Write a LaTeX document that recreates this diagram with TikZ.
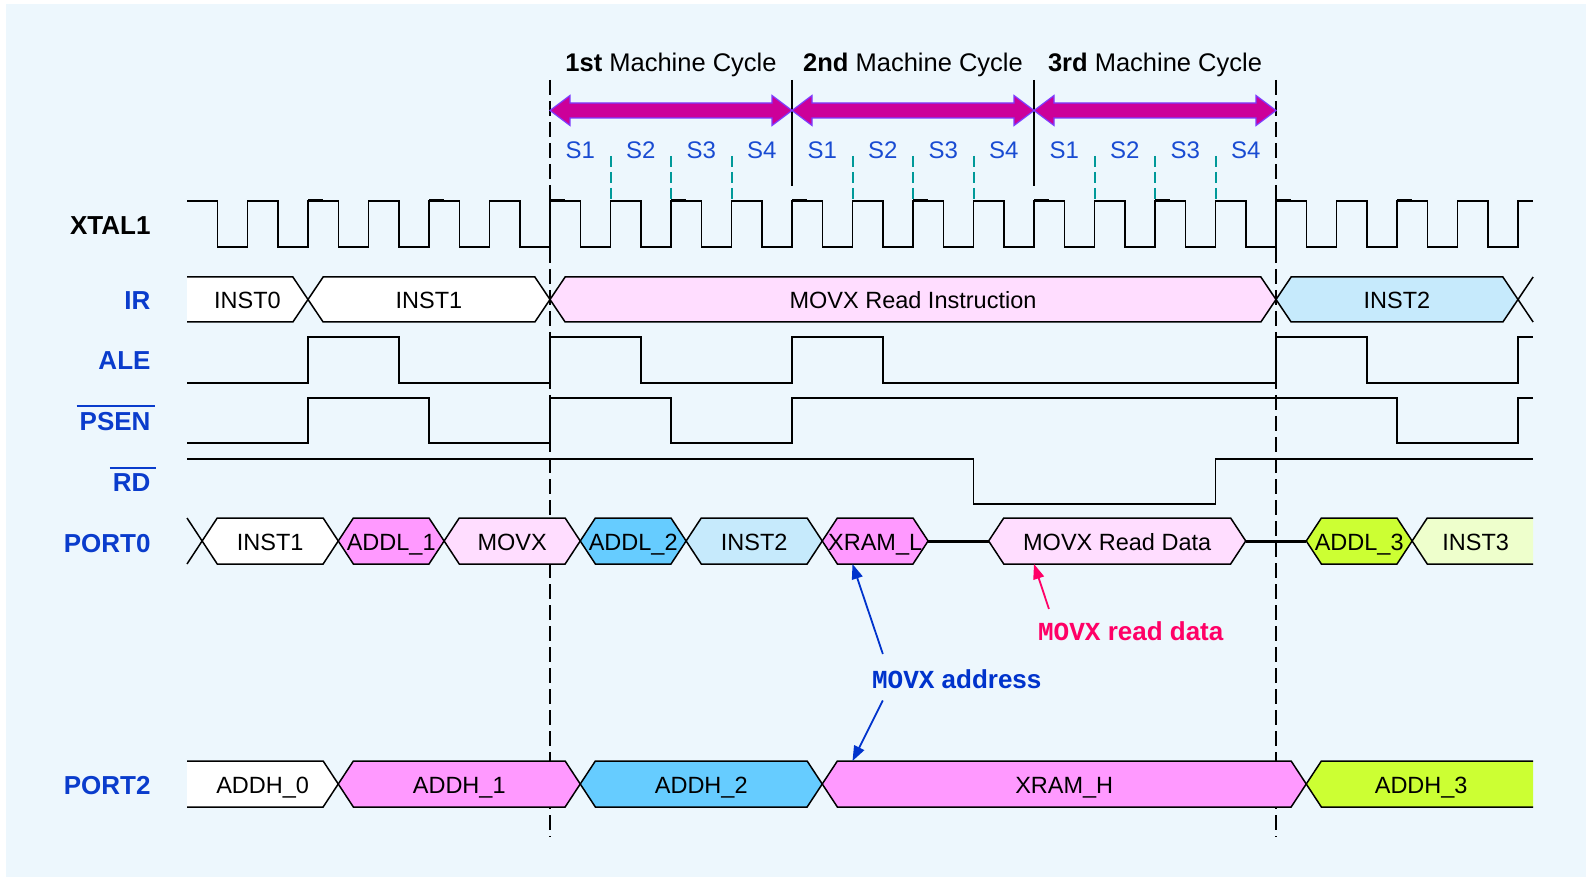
\documentclass[tikz,border=0pt]{standalone}
\usepackage{fontspec}
\setmainfont{Liberation Sans}
\newfontfamily\monofont{Liberation Mono}
\usetikzlibrary{arrows.meta}

\definecolor{bgblue}{RGB}{237,247,253}
\definecolor{sigblue}{RGB}{10,60,204}
\definecolor{stateblue}{RGB}{25,75,210}
\definecolor{tealtick}{RGB}{0,153,153}
\definecolor{cyclefill}{RGB}{204,0,153}
\definecolor{cycleedge}{RGB}{125,60,255}
\definecolor{palepink}{RGB}{255,221,255}
\definecolor{magpink}{RGB}{255,153,255}
\definecolor{skyblue}{RGB}{102,204,255}
\definecolor{iceblue}{RGB}{198,234,252}
\definecolor{limegreen}{RGB}{204,255,51}
\definecolor{palelime}{RGB}{238,255,204}
\definecolor{addrblue}{RGB}{0,51,204}
\definecolor{datapink}{RGB}{255,0,102}

\newcommand\barsig[1]{\hbox{\kern-3pt\vbox{\hrule height 2pt\kern 5pt\hbox{\kern3pt#1\kern5pt}}\kern-5pt}}

\begin{document}
\begin{tikzpicture}[x=30.25pt, y=-1pt,
  wave/.style={line width=1.5pt},
  bus/.style={draw=black, line width=1.5pt},
  val/.style={anchor=base, inner sep=0pt, font=\fontsize{23.5}{28}\selectfont},
  sig/.style={anchor=base east, inner sep=0pt, text=sigblue, font=\fontsize{26}{30}\selectfont\bfseries},
  statelabel/.style={anchor=base, inner sep=0pt, text=stateblue, font=\fontsize{24}{28}\selectfont},
  cyclelabel/.style={anchor=base, inner sep=0pt, font=\fontsize{25.5}{30}\selectfont},
  cyclearrow/.style={fill=cyclefill, draw=cycleedge, line width=1.2pt},
  cycleline/.style={line width=1.5pt},
  phase/.style={draw=tealtick, line width=2pt, dash pattern=on 11pt off 5pt},
  note/.style={anchor=base west, inner sep=0pt, font=\fontsize{26}{30}\selectfont\bfseries},
  notearrow/.style={line width=1.8pt, -{Triangle[length=15pt,width=11pt]}}]

\useasboundingbox (-18.182,0) rectangle (34.248,877);
\fill[bgblue] (-17.98,4) rectangle (34.248,877);

\draw[cycleline, dash pattern=on 15pt off 6pt] (0,80) -- (0,837);
\draw[cycleline, dash pattern=on 15pt off 6pt] (24,80) -- (24,837);
\draw[cycleline] (8,80) -- (8,186);
\draw[cycleline] (16,80) -- (16,186);

\foreach \c in {0,8,16}
  \filldraw[cyclearrow] (\c,110.5) -- ++(0.661,-15) -- ++(0,7.5) -- ++(6.678,0) -- ++(0,-7.5) -- ++(0.661,15) -- ++(-0.661,15) -- ++(0,-7.5) -- ++(-6.678,0) -- ++(0,7.5) -- cycle;

\node[cyclelabel] (cyc1) at (4,72) {\textbf{1st} Machine Cycle};
\node[cyclelabel] (cyc2) at (12,72) {\textbf{2nd} Machine Cycle};
\node[cyclelabel] (cyc3) at (20,72) {\textbf{3rd} Machine Cycle};

\foreach \c in {0,8,16} {
  \foreach \n in {1,...,4}
    \node[statelabel] (s\n-\c) at (\c+2*\n-1,159) {S\n};
  \foreach \t in {2,4,6}
    \draw[phase] (\c+\t,156) -- (\c+\t,200);
}

\node[sig, text=black] (xtal) at (-13.2,235) {XTAL1};
\node[sig] (ir) at (-13.2,309.5) {IR};
\node[sig] (ale) at (-13.2,370) {ALE};
\node[sig] (psen) at (-13.2,430.5) {\barsig{PSEN}};
\node[sig] (rd) at (-13.2,491.5) {\barsig{RD}};
\node[sig] (port0) at (-13.2,552) {PORT0};
\node[sig] (port2) at (-13.2,794) {PORT2};

\draw[wave] (-12,201) \foreach \k in {-12,-10,...,30} {-- (\k+1,201) -- (\k+1,247) -- (\k+2,247) -- (\k+2,201)} -- (32.5,201);
\foreach \k in {-8,-4,...,28}
  \draw[line width=3pt] (\k,201) -- (\k+0.5,201);

\filldraw[bus, fill=white] (-12,277) -- (-8.5,277) -- (-8,299.5) -- (-8.5,322) -- (-12,322);
\filldraw[bus, fill=white] (-8,299.5) -- (-7.5,277) -- (-0.5,277) -- (0,299.5) -- (-0.5,322) -- (-7.5,322) -- cycle;
\filldraw[bus, fill=palepink] (0,299.5) -- (0.5,277) -- (23.5,277) -- (24,299.5) -- (23.5,322) -- (0.5,322) -- cycle;
\filldraw[bus, fill=iceblue] (24,299.5) -- (24.5,277) -- (31.5,277) -- (32,299.5) -- (31.5,322) -- (24.5,322) -- cycle;
\draw[bus] (32.5,277) -- (32,299.5) -- (32.5,322);
\node[val] (ir0) at (-10,308.5) {INST0};
\node[val] (ir1) at (-4,308.5) {INST1};
\node[val] (irmovx) at (12,308.5) {MOVX Read Instruction};
\node[val] (ir2) at (28,308.5) {INST2};

\draw[wave] (-12,383) -- (-8,383) -- (-8,337) -- (-5,337) -- (-5,383) -- (0,383) -- (0,337) -- (3,337) -- (3,383) -- (8,383) -- (8,337) -- (11,337) -- (11,383) -- (24,383) -- (24,337) -- (27,337) -- (27,383) -- (32,383) -- (32,337) -- (32.5,337);

\draw[wave] (-12,443) -- (-8,443) -- (-8,398) -- (-4,398) -- (-4,443) -- (0,443) -- (0,398) -- (4,398) -- (4,443) -- (8,443) -- (8,398) -- (28,398) -- (28,443) -- (32,443) -- (32,398) -- (32.5,398);

\draw[wave] (-12,459) -- (14,459) -- (14,504) -- (22,504) -- (22,459) -- (32.5,459);

\draw[bus] (-12,518) -- (-11.5,541) -- (-12,564);
\filldraw[bus, fill=white] (-11.5,541) -- (-11,518) -- (-7.5,518) -- (-7,541) -- (-7.5,564) -- (-11,564) -- cycle;
\filldraw[bus, fill=magpink] (-7,541) -- (-6.5,518) -- (-4,518) -- (-3.5,541) -- (-4,564) -- (-6.5,564) -- cycle;
\filldraw[bus, fill=palepink] (-3.5,541) -- (-3,518) -- (0.5,518) -- (1,541) -- (0.5,564) -- (-3,564) -- cycle;
\filldraw[bus, fill=skyblue] (1,541) -- (1.5,518) -- (4,518) -- (4.5,541) -- (4,564) -- (1.5,564) -- cycle;
\filldraw[bus, fill=iceblue] (4.5,541) -- (5,518) -- (8.5,518) -- (9,541) -- (8.5,564) -- (5,564) -- cycle;
\filldraw[bus, fill=magpink] (9,541) -- (9.5,518) -- (12,518) -- (12.5,541) -- (12,564) -- (9.5,564) -- cycle;
\draw[line width=3pt] (12.5,541) -- (14.5,541);
\filldraw[bus, fill=palepink] (14.5,541) -- (15,518) -- (22.5,518) -- (23,541) -- (22.5,564) -- (15,564) -- cycle;
\draw[line width=3pt] (23,541) -- (25,541);
\filldraw[bus, fill=limegreen] (25,541) -- (25.5,518) -- (28,518) -- (28.5,541) -- (28,564) -- (25.5,564) -- cycle;
\filldraw[bus, fill=palelime] (32.5,518) -- (29,518) -- (28.5,541) -- (29,564) -- (32.5,564);
\node[val] (p0inst1) at (-9.25,550) {INST1};
\node[val] (p0addl1) at (-5.25,550) {ADDL\_1};
\node[val] (p0movx) at (-1.25,550) {MOVX};
\node[val] (p0addl2) at (2.75,550) {ADDL\_2};
\node[val] (p0inst2) at (6.75,550) {INST2};
\node[val] (xraml) at (10.75,550) {XRAM\_L};
\node[val] (rddata) at (18.75,550) {MOVX Read Data};
\node[val] (p0addl3) at (26.75,550) {ADDL\_3};
\node[val] (p0inst3) at (30.6,550) {INST3};

\filldraw[bus, fill=white] (-12,761) -- (-7.5,761) -- (-7,784) -- (-7.5,807) -- (-12,807);
\filldraw[bus, fill=magpink] (-7,784) -- (-6.5,761) -- (0.5,761) -- (1,784) -- (0.5,807) -- (-6.5,807) -- cycle;
\filldraw[bus, fill=skyblue] (1,784) -- (1.5,761) -- (8.5,761) -- (9,784) -- (8.5,807) -- (1.5,807) -- cycle;
\filldraw[bus, fill=magpink] (9,784) -- (9.5,761) -- (24.5,761) -- (25,784) -- (24.5,807) -- (9.5,807) -- cycle;
\filldraw[bus, fill=limegreen] (32.5,761) -- (25.5,761) -- (25,784) -- (25.5,807) -- (32.5,807);
\node[val] (addh0) at (-9.5,793) {ADDH\_0};
\node[val] (addh1) at (-3,793) {ADDH\_1};
\node[val] (addh2) at (5,793) {ADDH\_2};
\node[val] (xramh) at (17,793) {XRAM\_H};
\node[val] (addh3) at (28.8,793) {ADDH\_3};

\coordinate (xlbot) at (10,564);
\coordinate (xhtop) at (10,761);
\coordinate (rdbot) at (16,564);
\node[note, text=addrblue] (addr) at (10.64,688) {{\monofont\bfseries MOVX} address};
\node[note, text=datapink] (rdnote) at (16.13,640) {{\monofont\bfseries MOVX} read data};
\draw[notearrow, addrblue] ([shift={(11pt,15pt)}]addr.north west) -- (xlbot);
\draw[notearrow, addrblue] ([shift={(11pt,-12pt)}]addr.south west) -- (xhtop);
\draw[notearrow, datapink] ([shift={(11pt,12pt)}]rdnote.north west) -- (rdbot);

\end{tikzpicture}
\end{document}
